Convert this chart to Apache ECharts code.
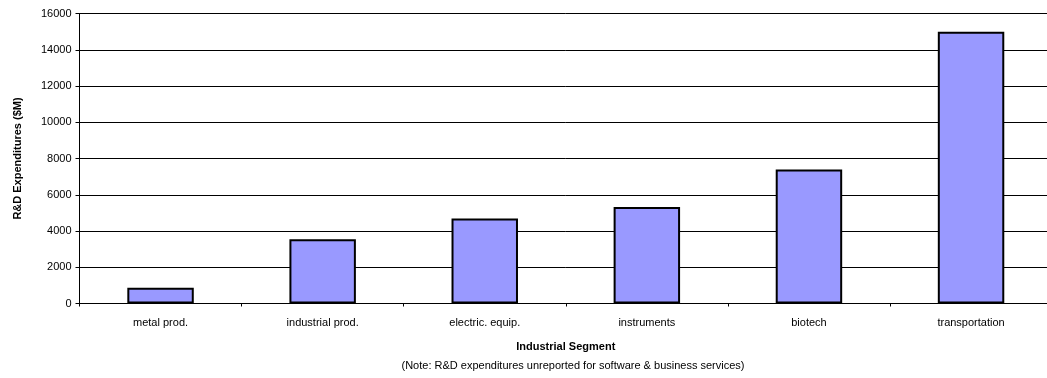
<!DOCTYPE html>
<html>
<head>
<meta charset="utf-8">
<script src="https://cdn.jsdelivr.net/npm/echarts@6/dist/echarts.min.js"></script>
<style>
  html, body { margin: 0; padding: 0; background: #fff; overflow: hidden; width: 1047px; height: 378px; }
  /* plot area runs a little past the right edge of the page */
  #chart { width: 1060px; height: 378px; }
</style>
</head>
<body>
<div id="chart"></div>
<script>
// R&D spending by industrial segment ($M)
const categories = ['metal prod.', 'industrial prod.', 'electric. equip.', 'instruments', 'biotech', 'transportation'];
const spending = [870, 3550, 4690, 5330, 7400, 15000];
const yTicks = { min: 0, max: 16000, interval: 2000 };

const font = 'Arial, "Liberation Sans", sans-serif';
const chart = echarts.init(document.getElementById('chart'), null, { renderer: 'canvas' });

chart.setOption({
  animation: false,
  backgroundColor: '#ffffff',
  grid: { left: 79.5, width: 972.6, top: 13.5, height: 290, containLabel: false },
  title: {
    text: '(Note: R&D expenditures unreported for software & business services)',
    left: 568, top: 355.5,
    textAlign: 'center',
    textStyle: { fontFamily: font, fontSize: 11, fontWeight: 'normal', color: '#000' }
  },
  xAxis: {
    type: 'category',
    data: categories,
    boundaryGap: true,
    name: 'Industrial Segment',
    nameLocation: 'middle',
    nameGap: 38,
    nameTextStyle: { fontFamily: font, fontSize: 11, fontWeight: 'bold', color: '#000' },
    axisLine: { lineStyle: { color: '#000', width: 1 } },
    axisTick: { show: true, length: 3, alignWithLabel: false, lineStyle: { color: '#000' } },
    axisLabel: { fontFamily: font, fontSize: 11, color: '#000', margin: 14 },
    splitLine: { show: false }
  },
  yAxis: {
    type: 'value',
    min: yTicks.min,
    max: yTicks.max,
    interval: yTicks.interval,
    name: 'R&D Expenditures ($M)',
    nameLocation: 'middle',
    nameGap: 56,
    nameTextStyle: { fontFamily: font, fontSize: 11, fontWeight: 'bold', color: '#000' },
    axisLine: { show: true, lineStyle: { color: '#000', width: 1 } },
    axisTick: { show: true, length: 4, lineStyle: { color: '#000' } },
    axisLabel: { fontFamily: font, fontSize: 11, color: '#000', margin: 8, formatter: v => String(v) },
    splitLine: { show: true, lineStyle: { color: '#000', width: 1 } }
  },
  series: [{
    type: 'bar',
    data: spending,
    barWidth: '41%',
    itemStyle: { color: '#9999FF', borderColor: '#000', borderWidth: 2 },
    emphasis: { disabled: true }
  }]
});
</script>
</body>
</html>
